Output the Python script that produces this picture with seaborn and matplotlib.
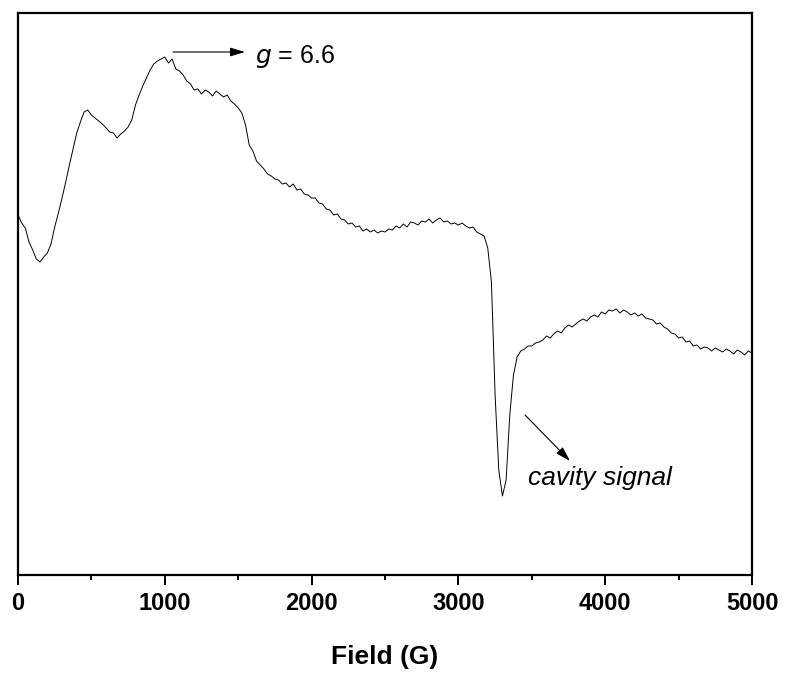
import numpy as np
import matplotlib
matplotlib.use('Agg')
import matplotlib.pyplot as plt
from matplotlib.ticker import MultipleLocator
import seaborn as sns

### Data (25 G steps, arbitrary intensity units)
field = np.arange(0, 5001, 25)

intensity = [
    385, 377, 372, 358, 350, 341, 338, 343, 347, 356,   # 0 - 225
    373, 387, 402, 418, 435, 451, 467, 478, 488, 490,   # 250 - 475
    485, 482, 479, 476, 472, 468, 467, 462, 466, 469,   # 500 - 725
    473, 480, 495, 505, 514, 522, 530, 536, 539, 541,   # 750 - 975
    543, 537, 541, 531, 529, 525, 519, 516, 510, 511,   # 1000 - 1225
    506, 510, 508, 504, 509, 506, 503, 505, 499, 496,   # 1250 - 1475
    492, 487, 475, 455, 449, 439, 435, 431, 426, 424,   # 1500 - 1725
    421, 420, 416, 417, 413, 416, 410, 411, 406, 405,   # 1750 - 1975
    402, 402, 397, 396, 391, 390, 385, 386, 381, 380,   # 2000 - 2225
    376, 377, 373, 374, 369, 371, 368, 370, 367, 369,   # 2250 - 2475
    368, 371, 370, 374, 372, 376, 373, 378, 377, 375,   # 2500 - 2725
    379, 378, 381, 377, 380, 382, 378, 379, 376, 377,   # 2750 - 2975
    375, 377, 374, 372, 373, 368, 366, 364, 352, 318,   # 3000 - 3225
    205, 130, 104, 120, 185, 225, 243, 249, 251, 254,   # 3250 - 3475
    254, 257, 258, 260, 264, 262, 266, 269, 267, 272,   # 3500 - 3725
    275, 273, 276, 279, 281, 279, 283, 285, 283, 288,   # 3750 - 3975
    286, 290, 289, 291, 287, 290, 288, 285, 287, 284,   # 4000 - 4225
    286, 282, 281, 280, 276, 277, 273, 271, 267, 266,   # 4250 - 4475
    262, 263, 258, 259, 254, 255, 251, 253, 252, 249,   # 4500 - 4725
    252, 250, 248, 251, 249, 246, 250, 248, 245, 249, 247,  # 4750 - 5000
]

x_ticks = [0, 1000, 2000, 3000, 4000, 5000]

### Style
sns.set_style('white')
plt.rcParams['font.family'] = ['Liberation Sans', 'DejaVu Sans']
plt.rcParams['text.color'] = 'black'
plt.rcParams['axes.labelcolor'] = 'black'
plt.rcParams['xtick.color'] = 'black'

fig = plt.figure(figsize=(7.85, 6.81), dpi=100)
ax = fig.add_axes([18 / 785, 1 - 575 / 681, 734 / 785, 562 / 681])

sns.lineplot(x=field, y=intensity, ax=ax, color='black', linewidth=0.7)

ax.set_xlim(0, 5000)
ax.set_ylim(25, 587)
ax.set_xticks(x_ticks)
ax.xaxis.set_minor_locator(MultipleLocator(500))
ax.set_yticks([])
ax.set_xticklabels([str(t) for t in x_ticks], fontsize=17, fontweight='bold', color='black')
ax.tick_params(axis='x', which='major', direction='out', length=7, width=1.4, pad=5, bottom=True)
ax.tick_params(axis='x', which='minor', direction='out', length=3.5, width=1.4, bottom=True)
for s in ax.spines.values():
    s.set_linewidth(1.6)
    s.set_color('black')

ax.set_xlabel('Field (G)', fontsize=19, fontweight='bold', labelpad=22, color='black')
ax.set_ylabel('')

### Annotations
arrow = dict(arrowstyle='-|>,head_length=0.6,head_width=0.18', color='black',
             lw=0.8, mutation_scale=15, shrinkA=0, shrinkB=0)
ax.annotate('', xy=(1546, 548), xytext=(1056, 548), arrowprops=arrow)
ax.text(1614, 537, r'$\it{g}$ = 6.6', fontsize=18, va='baseline', ha='left', color='black')

ax.annotate('', xy=(3760, 139), xytext=(3454, 185), arrowprops=arrow)
ax.text(3474, 115, 'cavity signal', fontsize=19, style='italic', va='baseline', ha='left',
        color='black')

fig.savefig('out.png', dpi=100)
plt.close(fig)
